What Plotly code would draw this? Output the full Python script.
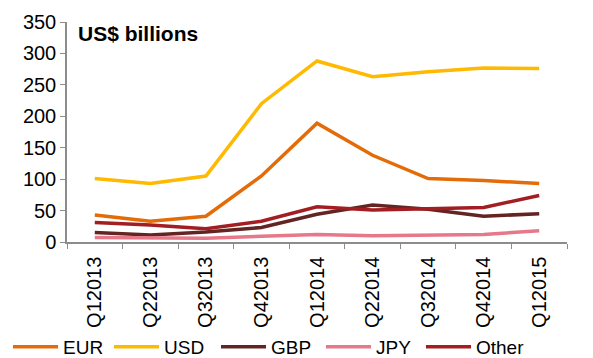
import plotly.graph_objects as go

quarters = ["Q12013", "Q22013", "Q32013", "Q42013", "Q12014", "Q22014", "Q32014", "Q42014", "Q12015"]
eur = [43, 33, 41, 105, 189, 138, 101, 98, 93]
usd = [101, 93, 105, 220, 288, 263, 271, 277, 276]
gbp = [15, 11, 16, 23, 44, 59, 52, 41, 45]
jpy = [7, 7, 6, 9, 12, 10, 11, 12, 18]
other = [31, 27, 21, 33, 56, 51, 53, 55, 74]

series = [
    ("EUR", eur, "#E36C09"),
    ("USD", usd, "#FFB900"),
    ("GBP", gbp, "#632523"),
    ("JPY", jpy, "#E6788A"),
    ("Other", other, "#A21E22"),
]
legend_left_px = [-4, 101, 208, 313, 413]

# page body has an 8px default margin, so the figure is 8px smaller
W, H = 585, 350
fig = go.Figure()
legends = {}
for i, (name, vals, col) in enumerate(series):
    key = "legend" if i == 0 else f"legend{i+1}"
    fig.add_trace(go.Scatter(x=quarters, y=vals, name=name, mode="lines",
                             line=dict(color=col, width=3.5), legend=key))
    legends[key] = dict(orientation="h", xref="container", yref="container",
                        x=legend_left_px[i] / W, xanchor="left",
                        y=11 / H, yanchor="middle", font=dict(size=19),
                        itemwidth=45, bgcolor="rgba(0,0,0,0)")

axis_col = "#8C8C8C"
fig.update_layout(
    width=W, height=H,
    margin=dict(l=59, r=26, t=14, b=116, autoexpand=False),
    paper_bgcolor="white", plot_bgcolor="white",
    font=dict(family="Liberation Sans, Arial", color="black"),
    showlegend=True,
    xaxis=dict(type="category", range=[-0.5, len(quarters) - 0.5],
               tickson="boundaries", ticks="outside", ticklen=5,
               tickcolor=axis_col, showline=True, linecolor=axis_col, linewidth=1.5,
               showgrid=False, tickangle=-90, tickfont=dict(size=20),
               ticklabelstandoff=5),
    yaxis=dict(range=[0, 350], dtick=50, ticks="outside", ticklen=5,
               tickcolor=axis_col, showline=True, linecolor=axis_col, linewidth=1.5,
               showgrid=False, zeroline=False, tickfont=dict(size=20)),
    annotations=[dict(text="<b>US$ billions</b>", x=0.018, y=1.0, xref="paper", yref="paper",
                      xanchor="left", yanchor="top", showarrow=False, yshift=2,
                      font=dict(size=21, color="black"))],
    **legends,
)

fig.write_html("out.html")
